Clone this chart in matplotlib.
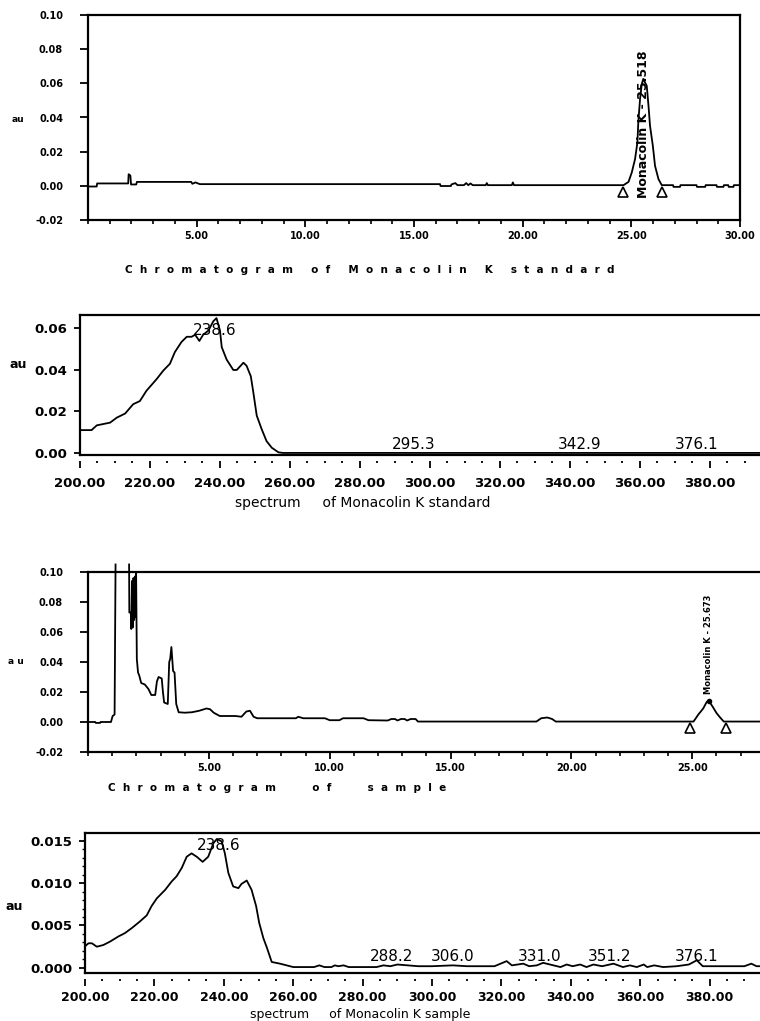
"""
Monacolin K: chromatograms and UV spectra, standard vs. sample.
Writes out.png (760x1021) with four stacked panels.
"""

import matplotlib.pyplot as plt
import matplotlib as mpl
import numpy as np
from matplotlib.ticker import MultipleLocator

mpl.rcParams["font.family"] = ["DejaVu Sans"]

W, H = 760, 1021
OUT = "out.png"

# ---- panel 1: chromatogram of the standard (min, AU) ----
std_t = [0.0, 0.40, 0.42, 1.85, 1.87, 1.95, 1.98, 2.22, 2.25, 4.75, 4.80, 4.95, 5.10, 5.15,
         16.2, 16.22, 16.7, 16.72, 16.9, 17.0, 17.3, 17.4, 17.5, 17.6, 17.7, 18.3, 18.35,
         18.4, 19.5, 19.55, 19.6, 24.64, 24.87, 25.02, 25.17, 25.28, 25.32, 25.40, 25.48,
         25.55, 25.65, 25.71, 25.79, 25.86, 25.99, 26.09, 26.25, 26.40, 26.92, 26.94, 27.24,
         27.26, 28.0, 28.02, 28.4, 28.42, 28.92, 28.94, 29.24, 29.26, 29.46, 29.48, 29.7,
         29.72, 30.0]
std_au = [-0.0004, -0.0004, 0.0014, 0.0014, 0.0068, 0.0060, 0.0008, 0.0008, 0.0023, 0.0023,
          0.0012, 0.0020, 0.0012, 0.0010,
          0.0010, -0.0001, -0.0001, 0.0008, 0.0016, 0.0004, 0.0004, 0.0016, 0.0004, 0.0014,
          0.0004, 0.0004, 0.0016,
          0.0004, 0.0004, 0.0020, 0.0004, 0.0004, 0.0023, 0.0078, 0.0156, 0.0254, 0.0370,
          0.0507, 0.0595,
          0.0626, 0.0600, 0.0585, 0.0468, 0.0351, 0.0234, 0.0117, 0.0039, 0.0004, 0.0004,
          -0.0006, -0.0006,
          0.0004, 0.0004, -0.0006, -0.0006, 0.0004, 0.0004, -0.0006, -0.0006, 0.0004, 0.0004,
          -0.0006, -0.0006,
          0.0004, 0.0004]
std_marks_t = [24.62, 26.42]
std_peak = (25.55, "Monacolin K - 25.518")

# ---- panel 2: spectrum of the standard (nm, AU) ----
std_nm = [200, 203.3, 204.8, 208.6, 210.5, 212.9, 215.2, 217.1, 219.0, 221.9, 223.8, 225.7,
          227.1, 229.0, 230.5, 231.9, 232.9, 234.1, 235.2, 236.7, 238.1, 239.0, 240.0, 240.5,
          241.9, 243.8, 244.8, 246.7, 247.6, 248.8, 249.5, 250.5, 251.9, 253.3, 254.8, 256.7,
          258.0, 395]
std_spec = [0.0110, 0.0110, 0.0133, 0.0146, 0.0170, 0.0190, 0.0235, 0.0250, 0.0300, 0.0356,
            0.0397, 0.0430, 0.0486, 0.0535, 0.0560, 0.0560, 0.0570, 0.0540, 0.0570, 0.0590,
            0.0635, 0.0650, 0.0590, 0.0510, 0.0450, 0.0400, 0.0400, 0.0435, 0.0420, 0.0370,
            0.0295, 0.0180, 0.0115, 0.0057, 0.0025, 0.0003, 0.0, 0.0]
std_lam = [238.6, 295.3, 342.9, 376.1]
std_lam_y = [0.0555, 0.0004, 0.0004, 0.0004]

# ---- panel 3: chromatogram of the sample (min, AU); nan = off-scale gap ----
smp_t = [0.0, 0.30, 0.32, 0.50, 0.52, 0.95, 1.02, 1.10, 1.14, 1.40, 1.70, 1.71, 1.77, 1.79,
         1.82, 1.85, 1.88, 1.91, 1.94, 1.96, 1.99, 2.02, 2.07, 2.12, 2.20, 2.35, 2.50, 2.62,
         2.78, 2.85, 2.92, 3.05, 3.10, 3.15, 3.30, 3.36, 3.40, 3.45, 3.52, 3.58, 3.65, 3.75,
         4.0, 4.3, 4.6, 4.9, 5.05, 5.2, 5.45, 6.1, 6.35, 6.55, 6.7, 6.85, 7.0, 8.6, 8.7, 8.9,
         9.8, 10.0, 10.4, 10.55, 11.4, 11.6, 12.4, 12.55, 12.7, 12.8, 12.95, 13.1, 13.2,
         13.35, 13.55, 13.65, 18.55, 18.75, 19.0, 19.2, 19.35, 25.05, 25.25, 25.45, 25.6,
         25.7, 25.85, 26.0, 26.15, 26.3, 27.8]
smp_au = [0.0, 0.0, -0.0006, -0.0006, 0.0, 0.0, 0.004, 0.005, 0.105, np.nan, 0.105, 0.073,
          0.073, 0.062,
          0.094, 0.063, 0.096, 0.068, 0.097, 0.070, 0.0997, 0.042, 0.033, 0.031, 0.026, 0.025,
          0.022, 0.018,
          0.018, 0.027, 0.030, 0.029, 0.020, 0.013, 0.012, 0.040, 0.042, 0.050, 0.034, 0.033,
          0.012, 0.0065,
          0.0062, 0.0065, 0.0075, 0.009, 0.0085, 0.0062, 0.004, 0.004, 0.0035, 0.007, 0.0075,
          0.0035, 0.0025, 0.0025, 0.0035, 0.0025,
          0.0025, 0.0012, 0.0012, 0.0025, 0.0025, 0.0012, 0.001, 0.002, 0.002, 0.001, 0.002,
          0.002, 0.001,
          0.002, 0.002, 0.0003, 0.0003, 0.0025, 0.003, 0.002, 0.0003, 0.0003, 0.005, 0.009,
          0.0135,
          0.0138, 0.010, 0.006, 0.003, 0.0003, 0.0003]
smp_marks_t = [24.9, 26.4]
smp_peak = (25.67, "Monacolin K - 25.673")

# ---- panel 4: spectrum of the sample (nm, AU) ----
smp_nm = [200, 201, 202, 203.4, 205.3, 207.2, 209.6, 211.5, 213.5, 215.9, 217.8, 219.2, 220.7,
          223.1, 225, 226.4, 227.9, 229.3, 230.7, 232.2, 233.9, 235.5, 237, 238, 239.4, 240.3,
          241.3, 242.7, 244.2, 245.1, 246.6, 248, 249.3, 250.2, 251.4, 252.4, 253.8, 256.2,
          258.1, 260, 266, 267.5, 269, 271, 272, 273, 274.5, 276, 284, 286, 288, 290, 296,
          300, 306, 310, 318, 321.5, 323, 326.3, 328, 330.2, 332, 335, 337, 338.8, 340.5,
          342.7, 344.5, 346.5, 349, 352.3, 355, 357, 359, 361, 362, 364, 366.6, 370.5, 374,
          376.3, 378, 381, 384, 390, 392, 393.5, 395]
smp_spec = [0.00255, 0.0029, 0.0029, 0.0025, 0.0027, 0.0031, 0.0037, 0.0041, 0.0047, 0.0055,
            0.0062, 0.0073, 0.0082, 0.0092, 0.0102, 0.0108, 0.0118, 0.0131, 0.0135, 0.0131,
            0.0125, 0.0131, 0.0147, 0.0152, 0.0149, 0.0135, 0.0112, 0.0096, 0.0094, 0.0099,
            0.0103, 0.0092, 0.0073, 0.0053, 0.0035, 0.0024, 0.0007, 0.0005, 0.0003, 0.0001,
            0.0001, 0.0003, 0.0001, 0.0001, 0.0003, 0.0002, 0.0003, 0.0001, 0.0001, 0.0003,
            0.0002, 0.0004, 0.0002, 0.0002, 0.0003, 0.0002, 0.0002, 0.0008, 0.0003, 0.0005,
            0.0002, 0.0003, 0.0006, 0.0003, 0.0001, 0.0004, 0.0002, 0.0004, 0.0001, 0.0004,
            0.0002, 0.0005, 0.0001, 0.0003, 0.0001, 0.0004, 0.0001, 0.0003, 0.0001, 0.0002,
            0.0004, 0.0009, 0.0002, 0.0002, 0.0002, 0.0002, 0.0005, 0.0002, 0.0002]
smp_lam = [238.6, 288.2, 306.0, 331.0, 351.2, 376.1]
smp_lam_y = [0.0135, 0.0005, 0.0005, 0.0005, 0.0005, 0.0005]

chrom_ticks = [5, 10, 15, 20, 25, 30]
chrom_ylabels = ["0.10", "0.08", "0.06", "0.04", "0.02", "0.00", "-0.02"]
spec_ticks = [200, 220, 240, 260, 280, 300, 320, 340, 360, 380]
std_yticks = [0.06, 0.04, 0.02, 0.00]
smp_yticks = [0.015, 0.010, 0.005, 0.000]

titles = {
    "std_chrom": ["Chromatogram", "of Monacolin", "K", "standard"],
    "std_spec": "spectrum     of Monacolin K standard",
    "smp_chrom": ["Chromatogram", "", "of", "", "sample"],
    "smp_spec": "spectrum     of Monacolin K sample",
}

NARROW = ["Liberation Sans Narrow", "DejaVu Sans"]

fig = plt.figure(figsize=(W / 100, H / 100), dpi=100)


def add_px_axes(left, top, right, bottom):
    return fig.add_axes([left / W, 1 - bottom / H, (right - left) / W, (bottom - top) / H])


def spaced(words):
    # the recorder prints its captions letter-spaced
    return "     ".join("  ".join(w) for w in words)


def style_chrom(ax, xmax, right_spine):
    ax.set_xlim(0, xmax)
    ax.set_ylim(-0.02, 0.10)
    for s in ax.spines.values():
        s.set_linewidth(1.6)
    ax.spines["right"].set_visible(right_spine)
    ticks = [t for t in chrom_ticks if t <= xmax]
    ax.set_xticks(ticks)
    ax.set_xticklabels([f"{t:.2f}" for t in ticks], fontsize=7, fontweight="bold")
    ax.xaxis.set_minor_locator(MultipleLocator(1))
    yt = [float(v) for v in chrom_ylabels]
    ax.set_yticks(yt)
    ax.set_yticklabels(chrom_ylabels, fontsize=7, fontweight="bold")
    ax.tick_params(axis="x", which="major", direction="out", length=5, width=1.3, pad=3)
    ax.tick_params(axis="x", which="minor", direction="out", length=3, width=1.2)
    ax.tick_params(axis="y", direction="out", length=6, width=1.3, pad=12)


def style_spec(ax, xmax, ylim, yticks, yfmt, yminor=None, xfs=9.5, xpad=7):
    ax.set_xlim(200, xmax)
    ax.set_ylim(*ylim)
    for s in ax.spines.values():
        s.set_linewidth(1.6)
    ax.spines["right"].set_visible(False)
    ax.spines["bottom"].set_visible(False)
    ax.spines["bottom"].set_position(("outward", 4))
    ax.axhline(ylim[0], color="black", lw=1.6, clip_on=False)
    ax.set_xticks(spec_ticks)
    ax.set_xticklabels([f"{t:.2f}" for t in spec_ticks], fontsize=xfs, fontweight="bold",
                       family=NARROW)
    ax.xaxis.set_minor_locator(MultipleLocator(5))
    ax.set_yticks(yticks)
    ax.set_yticklabels([yfmt.format(v) for v in yticks], fontsize=9.5, fontweight="bold",
                       family=NARROW)
    if yminor:
        ax.yaxis.set_minor_locator(MultipleLocator(yminor))
    ax.tick_params(axis="x", which="major", direction="out", length=5, width=1.3, pad=xpad)
    ax.tick_params(axis="x", which="minor", direction="out", length=1.5, width=1.3)
    ax.tick_params(axis="y", which="major", direction="out", length=4, width=1.3, pad=5)
    ax.tick_params(axis="y", which="minor", direction="out", length=2, width=1.0)


# panel 1
ax1 = add_px_axes(88, 15, 740, 220)
style_chrom(ax1, 30, True)
ax1.plot(std_t, std_au, color="black", lw=1.3)
ax1.plot(std_marks_t, [-0.0035] * 2, ls="none", marker="^", ms=7, mfc="white", mec="black",
         mew=1.2, zorder=5)
ax1.text(std_peak[0], 0.036, std_peak[1], rotation=90, ha="center", va="center",
         fontsize=9, fontweight="bold")
fig.text(12 / W, 1 - 119 / H, "au", fontsize=6.5, fontweight="bold", va="center")
fig.text(125 / W, 1 - 270 / H, spaced(titles["std_chrom"]), fontsize=7.5, fontweight="bold",
         va="center")

# panel 2
ax2 = add_px_axes(80, 315, 760, 455)
style_spec(ax2, 394.3, (-0.001, 0.0665), std_yticks, "{:.2f}")
ax2.plot(std_nm, std_spec, color="black", lw=1.3)
for lam, yv in zip(std_lam, std_lam_y):
    ax2.text(lam, yv, f"{lam:.1f}", ha="center", va="bottom", fontsize=11)
fig.text(10 / W, 1 - 365 / H, "au", fontsize=9, fontweight="bold", va="center",
         family=NARROW)
fig.text(235 / W, 1 - 503 / H, titles["std_spec"], fontsize=10, va="center", family=NARROW)

# panel 3
ax3 = add_px_axes(88, 572, 760, 752)
style_chrom(ax3, 27.8, False)
ax3.plot(smp_t, smp_au, color="black", lw=1.3, clip_on=False)
ax3.plot(smp_marks_t, [-0.004] * 2, ls="none", marker="^", ms=7, mfc="white", mec="black",
         mew=1.2, zorder=5)
ax3.plot([smp_peak[0]], [0.0138], ls="none", marker="o", ms=3, color="black")
ax3.text(smp_peak[0], 0.052, smp_peak[1], rotation=90, ha="center", va="center",
         fontsize=6, fontweight="bold")
fig.text(8 / W, 1 - 662 / H, "a u", fontsize=6.5, fontweight="bold", va="center")
fig.text(108 / W, 1 - 788 / H, spaced(titles["smp_chrom"]), fontsize=7.5, fontweight="bold",
         va="center")

# panel 4
ax4 = add_px_axes(85, 833, 760, 973)
style_spec(ax4, 394.5, (-0.0006, 0.0159), smp_yticks, "{:.3f}", yminor=0.001, xfs=9, xpad=4)
ax4.plot(smp_nm, smp_spec, color="black", lw=1.3)
for lam, yv in zip(smp_lam, smp_lam_y):
    ax4.text(lam, yv, f"{lam:.1f}", ha="center", va="bottom", fontsize=11)
fig.text(5 / W, 1 - 906 / H, "au", fontsize=9, fontweight="bold", va="center",
         family=NARROW)
fig.text(250 / W, 1 - 1014 / H, titles["smp_spec"], fontsize=9, va="center", family=NARROW)

fig.savefig(OUT, dpi=100)
print(f"saved: {OUT}")
